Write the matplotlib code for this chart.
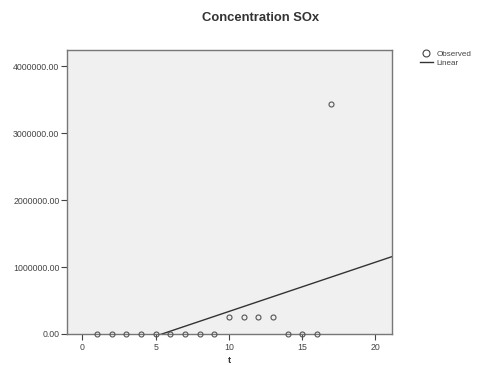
import numpy as np
import matplotlib
matplotlib.use("Agg")
import matplotlib.pyplot as plt
from matplotlib.lines import Line2D

t = [1, 2, 3, 4, 5, 6, 7, 8, 9, 10, 11, 12, 13, 14, 15, 16, 17]
conc = [0, 0, 0, 0, 0, 0, 0, 0, 0, 258000, 258000, 258000, 258000, 0, 0, 0, 3430000]
yticks = [0, 1000000, 2000000, 3000000, 4000000]
xticks = [0, 5, 10, 15, 20]

plt.rcParams['font.family'] = ['Liberation Sans', 'DejaVu Sans']

fig = plt.figure(figsize=(4.8, 3.65), dpi=100)
ax = fig.add_axes([0.139, 0.085, 0.678, 0.778])
ax.set_facecolor('#f0f0f0')

xlim = (-1.07, 21.14)
ax.set_xlim(*xlim)
ax.set_ylim(0, 4240000)

slope, intercept = np.polyfit(t, conc, 1)
xs = np.array(xlim)
ax.plot(xs, slope * xs + intercept, color='#333333', lw=1.0, zorder=2)
ax.plot(t, conc, linestyle='none', marker='o', markersize=3.6, markerfacecolor='none',
        markeredgecolor='#555555', markeredgewidth=0.8, zorder=3, clip_on=False)

ax.set_xticks(xticks)
ax.set_yticks(yticks)
ax.set_yticklabels([f"{v:.2f}" for v in yticks])
ax.tick_params(labelsize=6.3, length=4.3, width=0.8, color='#444444', labelcolor='#444444', pad=1)
ax.tick_params(axis='x', pad=2)
for s in ax.spines.values():
    s.set_color('#777777')
    s.set_linewidth(1.0)

fig.text(0.542, 0.951, "Concentration SOx", ha='center', va='center', fontsize=9.4,
         fontweight='bold', color='#333333')
ax.set_xlabel("t", fontsize=6.5, fontweight='bold', labelpad=3, color='#333333')

handles = [Line2D([], [], linestyle='none', marker='o', markersize=5, markerfacecolor='none',
                  markeredgecolor='#444444', markeredgewidth=0.8),
           Line2D([], [], color='#333333', lw=1.0)]
leg = fig.legend(handles, ["Observed", "Linear"], loc='upper left', bbox_to_anchor=(0.874, 0.862),
                 frameon=False, fontsize=5.8, handlelength=1.7, handletextpad=0.4,
                 labelspacing=0.15, borderaxespad=0, borderpad=0)
for txt in leg.get_texts():
    txt.set_color('#444444')

fig.savefig("out.png", dpi=100)
